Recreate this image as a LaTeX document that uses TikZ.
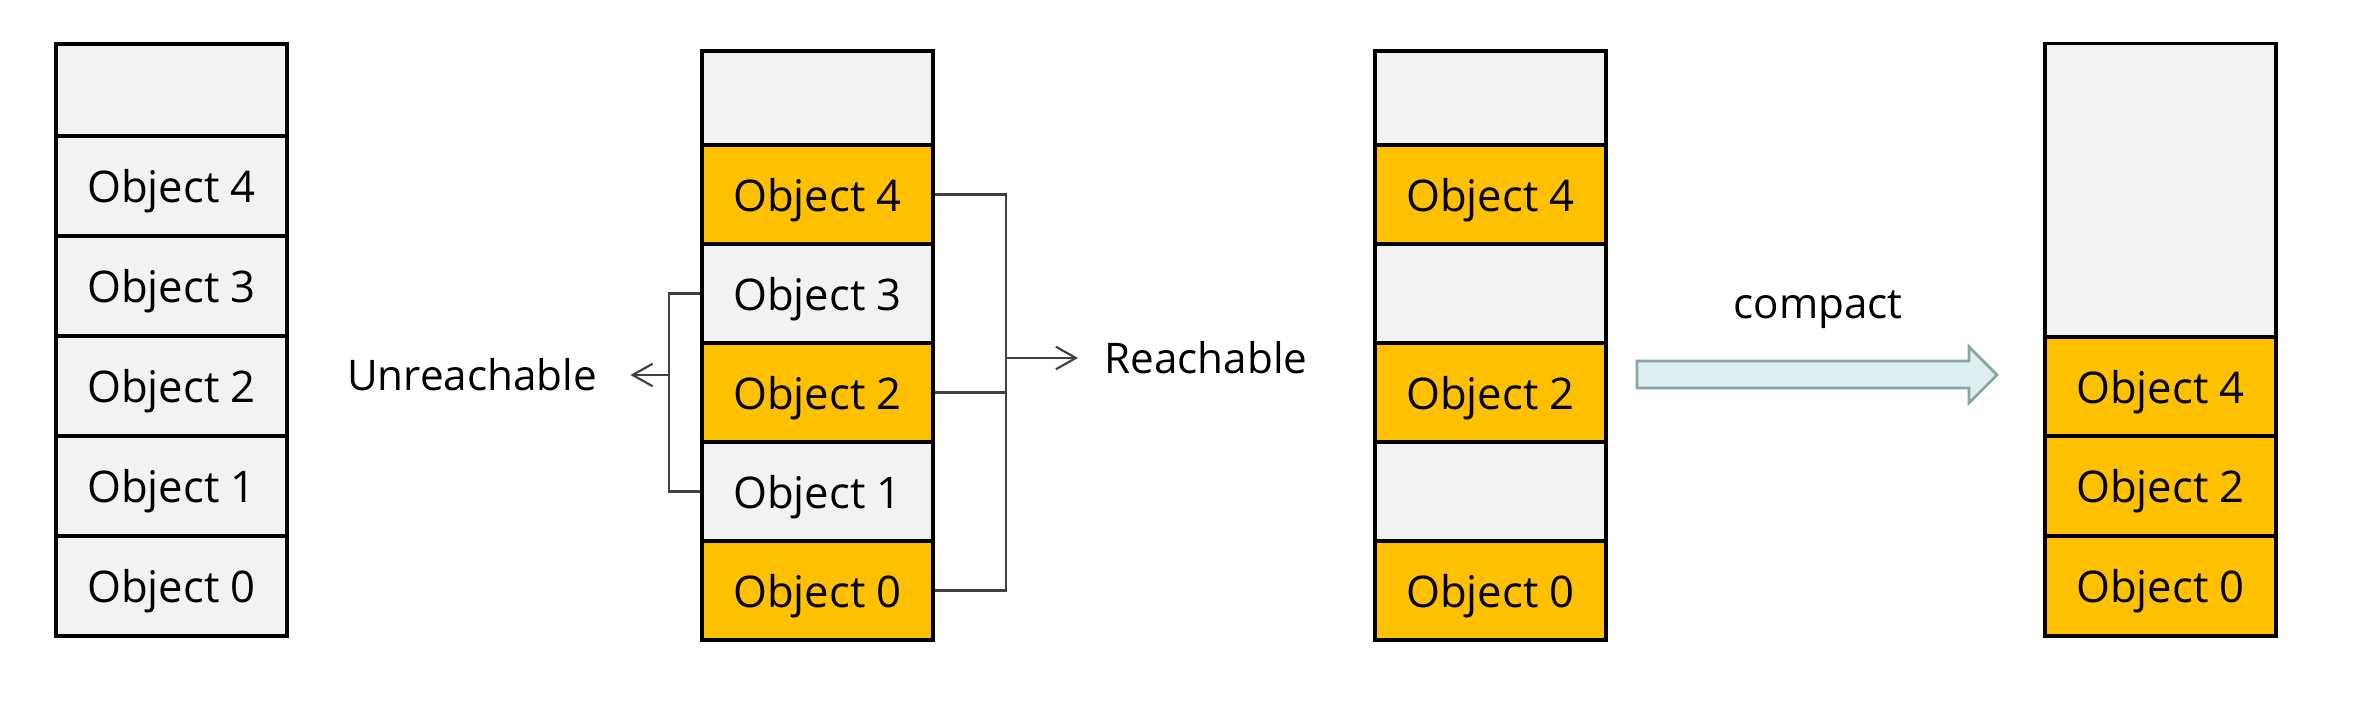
\documentclass[tikz,border=0pt]{standalone}
\usepackage{fontspec}
\setmainfont{Open Sans}
\usetikzlibrary{arrows.meta}
\definecolor{gold}{HTML}{FFC000}
\definecolor{cellgray}{HTML}{F2F2F2}
\definecolor{linkgray}{HTML}{404040}
\definecolor{arrowfill}{HTML}{DDEFF0}
\definecolor{arrowedge}{HTML}{8AA5A5}

\begin{document}
\begin{tikzpicture}[x=0.01cm,y=-0.01cm,
    cell/.style={draw,line width=0.9pt,minimum width=2.31cm,inner sep=0pt,text depth=0pt,font=\fontsize{12.4}{14}\selectfont},
    free/.style={cell,fill=cellgray},
    live/.style={cell,fill=gold},
    link/.style={draw=linkgray,line width=0.6pt},
    tip/.style={-{Straight Barb[length=5.7pt,width=6.4pt]}},
    lbl/.style={font=\fontsize{12}{14}\selectfont}]
    \useasboundingbox (0,0) rectangle (2368,713);
    % heap before gc
    \node[free,minimum height=0.92cm] (bt) at (171.5,90) {};
    \node[free,minimum height=1cm] (b4) at (171.5,186) {Object 4};
    \node[free,minimum height=1cm] (b3) at (171.5,286) {Object 3};
    \node[free,minimum height=1cm] (b2) at (171.5,386) {Object 2};
    \node[free,minimum height=1cm] (b1) at (171.5,486) {Object 1};
    \node[free,minimum height=1cm] (b0) at (171.5,586) {Object 0};
    % mark
    \node[free,minimum height=0.94cm] (mt) at (817.5,98) {};
    \node[live,minimum height=0.99cm] (m4) at (817.5,194.5) {Object 4};
    \node[free,minimum height=0.99cm] (m3) at (817.5,293.5) {Object 3};
    \node[live,minimum height=0.99cm] (m2) at (817.5,392.5) {Object 2};
    \node[free,minimum height=0.99cm] (m1) at (817.5,491.5) {Object 1};
    \node[live,minimum height=0.99cm] (m0) at (817.5,590.5) {Object 0};
    % unreachable
    \node[lbl] (unr) at (472,375) {Unreachable};
    \coordinate (lb) at (669,375);
    \draw[link] (m3.west) -| (lb) |- (m1.west);
    \draw[link,tip,shorten >=6pt] (lb) -- (unr);
    % reachable
    \node[lbl] (reach) at (1206,358) {Reachable};
    \coordinate (rb) at (1006,358);
    \draw[link] (m4.east) -| (rb) |- (m0.east);
    \draw[link] (m2.east) -- (m2.east -| rb);
    \draw[link,tip,shorten >=4pt] (rb) -- (reach);
    % sweep
    \node[free,minimum height=0.94cm] (st) at (1490.5,98) {};
    \node[live,minimum height=0.99cm] (s4) at (1490.5,194.5) {Object 4};
    \node[free,minimum height=0.99cm] (s3) at (1490.5,293.5) {};
    \node[live,minimum height=0.99cm] (s2) at (1490.5,392.5) {Object 2};
    \node[free,minimum height=0.99cm] (s1) at (1490.5,491.5) {};
    \node[live,minimum height=0.99cm] (s0) at (1490.5,590.5) {Object 0};
    % compact
    \node[lbl] (cmp) at (1818,310) {compact};
    \draw[draw=arrowedge,fill=arrowfill,line width=0.8pt]
        (1637,361) -- (1969,361) -- (1969,347) -- (1997,375) -- (1969,403) -- (1969,388) -- (1637,388) -- cycle;
    \node[free,minimum height=2.93cm] (ct) at (2160.5,190.5) {};
    \node[live,minimum height=0.99cm] (c4) at (2160.5,386.5) {Object 4};
    \node[live,minimum height=1cm] (c2) at (2160.5,486) {Object 2};
    \node[live,minimum height=1cm] (c0) at (2160.5,586) {Object 0};
\end{tikzpicture}
\end{document}
